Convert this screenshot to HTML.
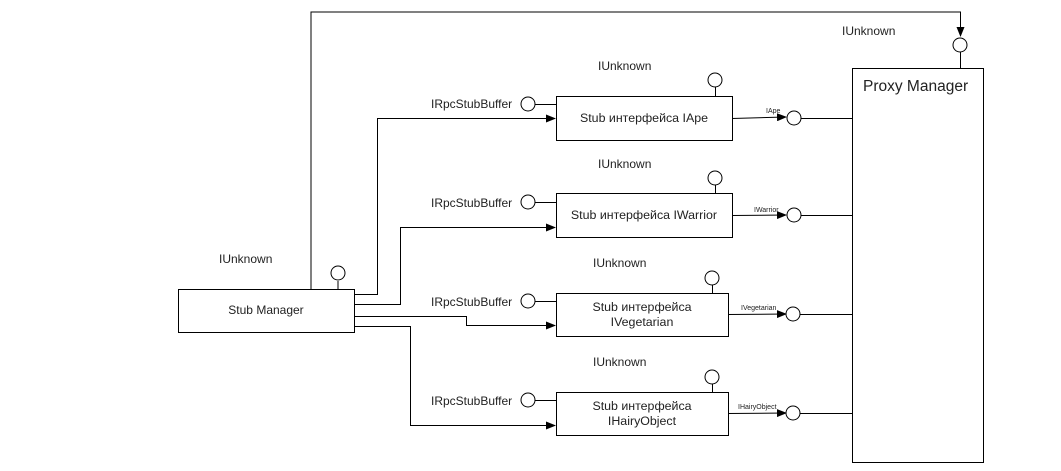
<!DOCTYPE html>
<html><head><meta charset="utf-8"><style>
html,body{margin:0;padding:0;background:#fff;}
svg{display:block;}
text{font-family:"Liberation Sans",sans-serif;fill:#222;}
</style></head><body>
<svg width="1061" height="471" viewBox="0 0 1061 471" xmlns="http://www.w3.org/2000/svg">
<defs><marker id="a" markerWidth="10" markerHeight="8" refX="9" refY="4" orient="auto" markerUnits="userSpaceOnUse"><path d="M0,0 L10,4 L0,8 z" fill="#000"/></marker></defs>
<g fill="none" stroke="#000" stroke-width="1">
<path d="M311,289 V12 H960.5 V36" marker-end="url(#a)"/>
<circle cx="960" cy="45" r="7" fill="#fff"/>
<line x1="960.5" y1="52" x2="960.5" y2="68"/>
<rect x="178.5" y="289.5" width="176" height="43" fill="#fff"/>
<line x1="338" y1="281" x2="338" y2="289"/>
<circle cx="338" cy="273" r="7" fill="#fff"/>
<path d="M354,294.5 H377.5 V118.5 H555" marker-end="url(#a)"/>
<path d="M354,304.5 H400.5 V227.5 H555" marker-end="url(#a)"/>
<path d="M354,316.5 H466.5 V325.5 H555" marker-end="url(#a)"/>
<path d="M354,326.5 H410.5 V425.5 H555" marker-end="url(#a)"/>
<rect x="852.5" y="68.5" width="131" height="394" fill="#fff"/>
</g>
<g fill="none" stroke="#000" stroke-width="1">
<rect x="556.5" y="96.5" width="176" height="44" fill="#fff"/>
<circle cx="528" cy="104" r="7" fill="#fff"/><line x1="535" y1="104.5" x2="556" y2="104.5"/>
<circle cx="715" cy="80" r="7" fill="#fff"/><line x1="715.5" y1="87" x2="715.5" y2="96"/>
<line x1="732" y1="118.5" x2="786" y2="117" marker-end="url(#a)"/>
<circle cx="794" cy="118" r="7" fill="#fff"/><line x1="801" y1="118.5" x2="852" y2="118.5"/>
<rect x="556.5" y="193.5" width="176" height="44" fill="#fff"/>
<circle cx="528" cy="202" r="7" fill="#fff"/><line x1="535" y1="202.5" x2="556" y2="202.5"/>
<circle cx="715" cy="178" r="7" fill="#fff"/><line x1="715.5" y1="185" x2="715.5" y2="193"/>
<line x1="732" y1="215.5" x2="786" y2="215" marker-end="url(#a)"/>
<circle cx="794" cy="215" r="7" fill="#fff"/><line x1="801" y1="215.5" x2="852" y2="215.5"/>
<rect x="556.5" y="293.5" width="172" height="43" fill="#fff"/>
<circle cx="528" cy="301" r="7" fill="#fff"/><line x1="535" y1="301.5" x2="556" y2="301.5"/>
<circle cx="712" cy="278" r="7" fill="#fff"/><line x1="712.5" y1="285" x2="712.5" y2="293"/>
<line x1="728" y1="314.5" x2="786" y2="314" marker-end="url(#a)"/>
<circle cx="793" cy="314" r="7" fill="#fff"/><line x1="800" y1="314.5" x2="852" y2="314.5"/>
<rect x="556.5" y="392.5" width="172" height="43" fill="#fff"/>
<circle cx="528" cy="400" r="7" fill="#fff"/><line x1="535" y1="400.5" x2="556" y2="400.5"/>
<circle cx="712" cy="377" r="7" fill="#fff"/><line x1="712.5" y1="384" x2="712.5" y2="392"/>
<line x1="728" y1="413.5" x2="786" y2="413" marker-end="url(#a)"/>
<circle cx="793" cy="413" r="7" fill="#fff"/><line x1="800" y1="413.5" x2="852" y2="413.5"/>
</g>
<g font-size="12">
<text x="842" y="35">IUnknown</text>
<text x="219" y="263">IUnknown</text>
<text x="266" y="314" text-anchor="middle">Stub Manager</text>
<text x="863" y="91" font-size="15.5">Proxy Manager</text>
<text x="598" y="70">IUnknown</text>
<text x="598" y="168">IUnknown</text>
<text x="593" y="267">IUnknown</text>
<text x="593" y="366">IUnknown</text>
<text x="431" y="108">IRpcStubBuffer</text>
<text x="431" y="207">IRpcStubBuffer</text>
<text x="431" y="306">IRpcStubBuffer</text>
<text x="431" y="405">IRpcStubBuffer</text>
<g font-size="12.4">
<text x="644" y="122" text-anchor="middle">Stub интерфейса IApe</text>
<text x="644" y="219" text-anchor="middle">Stub интерфейса IWarrior</text>
<text x="642" y="311" text-anchor="middle">Stub интерфейса</text>
<text x="642" y="326" text-anchor="middle">IVegetarian</text>
<text x="642" y="410" text-anchor="middle">Stub интерфейса</text>
<text x="642" y="425" text-anchor="middle">IHairyObject</text>
</g>
</g>
<g font-size="7">
<text x="766" y="113">IApe</text>
<text x="754" y="212">IWarrior</text>
<text x="741" y="310">IVegetarian</text>
<text x="738" y="409">IHairyObject</text>
</g>
</svg>
</body></html>
